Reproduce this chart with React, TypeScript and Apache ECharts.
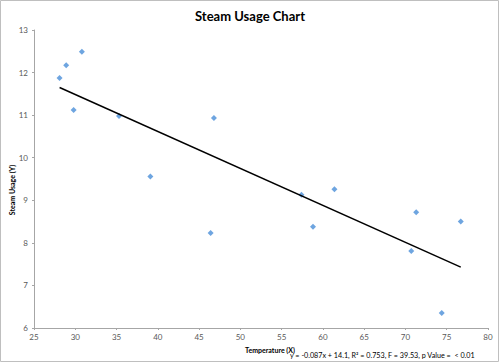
import React, { useEffect, useRef } from "react";
import * as echarts from "echarts";

const temperature = [28.1, 28.9, 30.8, 29.8, 35.3, 46.8, 39.1, 46.4, 57.4, 61.4, 58.8, 71.3, 70.7, 76.7, 74.4];
const steamUsage = [11.87, 12.17, 12.49, 11.12, 10.98, 10.93, 9.56, 8.23, 9.13, 9.26, 8.38, 8.72, 7.81, 8.5, 6.35];
const trendX = [28.1, 76.7];
const trendY = [11.65, 7.43];
const xTicks = { min: 25, max: 80, interval: 5 };
const yTicks = { min: 6, max: 13, interval: 1 };
const titleText = "Steam Usage Chart";
const xName = "Temperature (X)";
const yName = "Steam Usage (Y)";
const statsText = "y = -0.087x + 14.1, R\u00b2 = 0.753, F = 39.53, p Value =  < 0.01";

const FONT = "Lato, 'Open Sans', sans-serif";

export default function App() {
  const ref = useRef<HTMLDivElement>(null);
  useEffect(() => {
    document.body.style.margin = "0";
    const chart = echarts.init(ref.current!, null, { renderer: "svg" });
    const axisCommon = {
      axisLine: { show: true, lineStyle: { color: "#a6a6a6", width: 1 } },
      axisTick: { show: true, length: 2, lineStyle: { color: "#a6a6a6" } },
      splitLine: { show: false },
      axisLabel: { color: "#595959", fontSize: 8, fontFamily: FONT },
    };
    chart.setOption({
      animation: false,
      backgroundColor: "#ffffff",
      title: {
        text: titleText,
        left: "center",
        top: 4,
        textStyle: { fontSize: 13, fontWeight: "bold", color: "#000", fontFamily: FONT },
      },
      grid: { left: 34, right: 12, top: 30, bottom: 35, containLabel: false },
      xAxis: {
        type: "value",
        ...xTicks,
        ...axisCommon,
        axisLabel: { ...axisCommon.axisLabel, margin: 5 },
      },
      yAxis: {
        type: "value",
        ...yTicks,
        ...axisCommon,
        axisLabel: { ...axisCommon.axisLabel, margin: 6 },
      },
      graphic: [
        {
          type: "rect",
          shape: { x: 0.5, y: 0.5, width: 498, height: 361 },
          style: { fill: "none", stroke: "#bfbfbf", lineWidth: 1 },
          silent: true,
        },
        {
          type: "text",
          x: 12,
          y: 190,
          rotation: Math.PI / 2,
          style: {
            text: yName,
            fontSize: 7,
            fontWeight: "bold",
            fontFamily: FONT,
            fill: "#000",
            align: "center",
            verticalAlign: "middle",
          },
        },
        {
          type: "text",
          x: 270,
          y: 350,
          style: {
            text: xName,
            fontSize: 7,
            fontWeight: "bold",
            fontFamily: FONT,
            fill: "#000",
            align: "center",
            verticalAlign: "middle",
          },
        },
        {
          type: "text",
          x: 290,
          y: 355,
          style: {
            text: statsText,
            fontSize: 7.2,
            fontFamily: FONT,
            fill: "#000",
            align: "left",
            verticalAlign: "middle",
          },
        },
      ],
      series: [
        {
          type: "scatter",
          data: temperature.map((x, i) => [x, steamUsage[i]]),
          symbol: "diamond",
          symbolSize: 6,
          itemStyle: { color: "#4a8fd8" },
        },
        {
          type: "line",
          data: trendX.map((x, i) => [x, trendY[i]]),
          symbol: "none",
          lineStyle: { color: "#000", width: 1.5 },
        },
      ],
    });
    return () => chart.dispose();
  }, []);
  return <div ref={ref} style={{ width: 500, height: 363 }} />;
}
